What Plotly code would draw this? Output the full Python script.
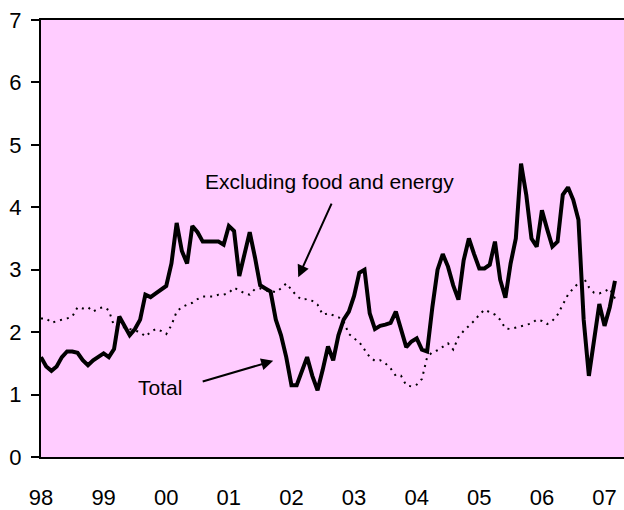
import plotly.graph_objects as go

# monthly year-on-year inflation, Jan 1998 - Mar 2007
year_labels = ["98", "99", "00", "01", "02", "03", "04", "05", "06", "07"]

total = [
    1.6, 1.45, 1.38, 1.45, 1.6, 1.69, 1.69, 1.67, 1.55, 1.47, 1.55, 1.6,      # 1998
    1.66, 1.6, 1.73, 2.25, 2.1, 1.95, 2.05, 2.2, 2.6, 2.56, 2.62, 2.68,       # 1999
    2.74, 3.1, 3.75, 3.3, 3.1, 3.7, 3.6, 3.45, 3.45, 3.45, 3.45, 3.4,         # 2000
    3.7, 3.62, 2.9, 3.25, 3.6, 3.2, 2.75, 2.7, 2.65, 2.2, 1.95, 1.6,          # 2001
    1.15, 1.15, 1.4, 1.6, 1.3, 1.07, 1.4, 1.77, 1.55, 1.95, 2.2, 2.33,        # 2002
    2.58, 2.95, 3.0, 2.3, 2.05, 2.1, 2.12, 2.15, 2.33, 2.05, 1.76, 1.85,      # 2003
    1.9, 1.72, 1.69, 2.4, 3.0, 3.25, 3.05, 2.75, 2.52, 3.15, 3.5, 3.25,       # 2004
    3.02, 3.02, 3.08, 3.45, 2.84, 2.55, 3.1, 3.5, 4.7, 4.2, 3.5, 3.37,        # 2005
    3.95, 3.65, 3.37, 3.45, 4.2, 4.32, 4.12, 3.8, 2.2, 1.3, 1.9, 2.45,        # 2006
    2.1, 2.4, 2.82,                                                           # 2007
]

core = [
    2.22, 2.22, 2.15, 2.18, 2.2, 2.22, 2.25, 2.4, 2.38, 2.4, 2.33, 2.38,      # 1998
    2.4, 2.35, 2.1, 2.08, 2.08, 2.05, 2.02, 2.0, 1.93, 2.0, 2.05, 2.02,       # 1999
    1.97, 2.11, 2.33, 2.4, 2.44, 2.47, 2.53, 2.57, 2.57, 2.57, 2.6, 2.6,      # 2000
    2.63, 2.71, 2.67, 2.62, 2.6, 2.69, 2.7, 2.67, 2.66, 2.64, 2.7, 2.78,      # 2001
    2.68, 2.58, 2.52, 2.53, 2.5, 2.44, 2.28, 2.3, 2.27, 2.24, 2.17, 1.97,     # 2002
    1.9, 1.84, 1.72, 1.6, 1.54, 1.55, 1.5, 1.42, 1.3, 1.3, 1.15, 1.13,        # 2003
    1.16, 1.25, 1.6, 1.68, 1.71, 1.76, 1.82, 1.72, 1.92, 2.02, 2.1, 2.18,     # 2004
    2.28, 2.36, 2.32, 2.28, 2.2, 2.06, 2.05, 2.07, 2.09, 2.11, 2.14, 2.2,     # 2005
    2.18, 2.13, 2.18, 2.28, 2.45, 2.6, 2.7, 2.78, 2.87, 2.72, 2.63, 2.62,     # 2006
    2.65, 2.7, 2.54,                                                          # 2007
]

months = list(range(len(total)))

fig = go.Figure()
fig.add_trace(go.Scatter(x=months, y=core, mode="lines",
                         line=dict(color="black", width=2, dash="2px,5px"),
                         name="Excluding food and energy"))
fig.add_trace(go.Scatter(x=months, y=total, mode="lines",
                         line=dict(color="black", width=4),
                         name="Total"))

fnt = "Liberation Sans, Arial, sans-serif"

# labels + arrows
fig.add_annotation(x=55.3, y=4.42, text="Excluding food and energy", showarrow=False,
                   font=dict(size=21, family=fnt, color="black"))
fig.add_annotation(x=49.3, y=2.88, text="", showarrow=True, ax=34, ay=-75,
                   arrowhead=2, arrowsize=1.2, arrowwidth=2, arrowcolor="black")
fig.add_annotation(x=22.9, y=1.12, text="Total", showarrow=False,
                   font=dict(size=21, family=fnt, color="black"))
fig.add_annotation(x=44.5, y=1.54, text="", showarrow=True, ax=-72, ay=21,
                   arrowhead=2, arrowsize=1.2, arrowwidth=2, arrowcolor="black")

fig.update_layout(
    width=624, height=510,
    margin=dict(l=41, r=0, t=20, b=53),
    plot_bgcolor="#FFCCFF", paper_bgcolor="white",
    showlegend=False,
    font=dict(family=fnt, color="black", size=22),
)
fig.update_xaxes(range=[0, 111.73], tickvals=list(range(0, 109, 12)), ticktext=year_labels,
                 showline=True, linecolor="black", linewidth=2, mirror=True,
                 ticks="", showgrid=False, zeroline=False, ticklabelstandoff=20,
                 tickfont=dict(size=22), automargin=False)
fig.update_yaxes(range=[0, 7], dtick=1, showline=True, linecolor="black", linewidth=2,
                 ticks="outside", ticklen=8, tickwidth=2, tickcolor="black",
                 showgrid=False, zeroline=False, ticklabelstandoff=5,
                 tickfont=dict(size=22), automargin=False)

# drop the default 8px page margin so the figure sits at the window corner
fig.write_html("out.html", config={"displayModeBar": False},
               post_script="document.body.style.margin='0';")
